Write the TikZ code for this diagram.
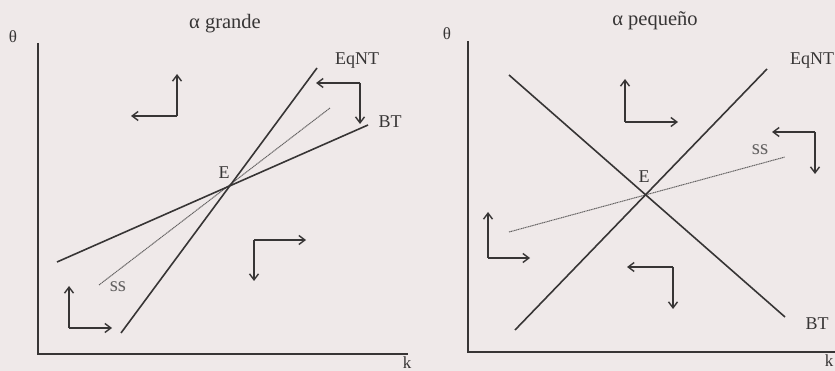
\documentclass[tikz,border=0pt]{standalone}
\usepackage{fontspec}
\setmainfont{Liberation Serif}
\usetikzlibrary{arrows.meta}
\definecolor{paper}{RGB}{239,233,233}
\definecolor{ink}{RGB}{55,53,53}
\definecolor{dotink}{RGB}{100,98,98}
\begin{document}
\begin{tikzpicture}[x=1pt,y=-1pt,
  ax/.style={draw=ink,line width=2pt},
  curve/.style={draw=ink,line width=1.6pt},
  sscurve/.style={draw=dotink,line width=1pt,dash pattern=on 1.2pt off 0.6pt},
  dirarrow/.style={draw=ink,line width=1.4pt,-{Straight Barb[length=6pt,width=9pt,line width=1.4pt]}},
  lbl/.style={text=ink,font=\fontsize{18}{20}\selectfont,inner sep=0pt},
  ttl/.style={text=ink,font=\fontsize{20.5}{22}\selectfont,inner sep=0pt},
  sslbl/.style={text=dotink,font=\fontsize{21}{22}\selectfont,inner sep=0pt},
  axl/.style={text=ink,font=\fontsize{17}{19}\selectfont,inner sep=0pt}]
\useasboundingbox[fill=paper] (0,0) rectangle (835,371);
% ---------- left panel: alpha grande ----------
\node[ttl] (t1) at (225,24) {α grande};
\node[axl] (th1) at (13,37) {θ};
\node[axl] (k1) at (407,363) {k};
\coordinate (o1) at (38,354);
\coordinate (yt1) at (38,43);
\coordinate (xr1) at (408,354);
\draw[ax] (yt1) -- (o1) -- (xr1);
\coordinate (ea) at (121,333);
\coordinate (eb) at (317,68);
\coordinate (ba) at (57,262);
\coordinate (bb) at (368,125);
\coordinate (sa) at (99,285);
\coordinate (sb) at (330,108);
\draw[sscurve] (sa) -- (sb);
\draw[curve] (ea) -- (eb);
\draw[curve] (ba) -- (bb);
\node[lbl] (E1) at (224,173) {E};
\node[lbl] (eq1) at (357,61) {EqNT};
\node[lbl] (bt1) at (390,122) {BT};
\node[sslbl] (ss1) at (118,287) {ss};
% arrows left
\coordinate (c11) at (177,116);
\coordinate (u11) at (177,74);
\coordinate (l11) at (131,116);
\draw[dirarrow] (c11) -- (u11);
\draw[dirarrow] (c11) -- (l11);
\coordinate (c12) at (360,83);
\coordinate (l12) at (316,83);
\coordinate (d12) at (360,124);
\draw[dirarrow] (c12) -- (l12);
\draw[dirarrow] (c12) -- (d12);
\coordinate (c13) at (254,240);
\coordinate (r13) at (306,240);
\coordinate (d13) at (254,281);
\draw[dirarrow] (c13) -- (r13);
\draw[dirarrow] (c13) -- (d13);
\coordinate (c14) at (69,328);
\coordinate (u14) at (69,286);
\coordinate (r14) at (112,328);
\draw[dirarrow] (c14) -- (u14);
\draw[dirarrow] (c14) -- (r14);
% ---------- right panel: alpha pequeno ----------
\node[ttl] (t2) at (655,21) {α pequeño};
\node[axl] (th2) at (447,34) {θ};
\node[axl] (k2) at (829,361) {k};
\coordinate (o2) at (468,352);
\coordinate (yt2) at (468,41);
\coordinate (xr2) at (835,352);
\draw[ax] (yt2) -- (o2) -- (xr2);
\coordinate (ra) at (515,330);
\coordinate (rb) at (767,69);
\coordinate (qa) at (509,75);
\coordinate (qb) at (785,317);
\coordinate (pa) at (509,232);
\coordinate (pb) at (785,157);
\draw[sscurve] (pa) -- (pb);
\draw[curve] (ra) -- (rb);
\draw[curve] (qa) -- (qb);
\node[lbl] (E2) at (644,177) {E};
\node[lbl] (eq2) at (812,61) {EqNT};
\node[lbl] (bt2) at (817,324) {BT};
\node[sslbl] (ss2) at (760,150) {ss};
% arrows right
\coordinate (c21) at (625,122);
\coordinate (u21) at (625,79);
\coordinate (r21) at (678,122);
\draw[dirarrow] (c21) -- (u21);
\draw[dirarrow] (c21) -- (r21);
\coordinate (c22) at (815,132);
\coordinate (l22) at (772,132);
\coordinate (d22) at (815,174);
\draw[dirarrow] (c22) -- (l22);
\draw[dirarrow] (c22) -- (d22);
\coordinate (c23) at (488,258);
\coordinate (u23) at (488,212);
\coordinate (r23) at (530,258);
\draw[dirarrow] (c23) -- (u23);
\draw[dirarrow] (c23) -- (r23);
\coordinate (c24) at (673,267);
\coordinate (l24) at (627,267);
\coordinate (d24) at (673,309);
\draw[dirarrow] (c24) -- (l24);
\draw[dirarrow] (c24) -- (d24);
\end{tikzpicture}
\end{document}
